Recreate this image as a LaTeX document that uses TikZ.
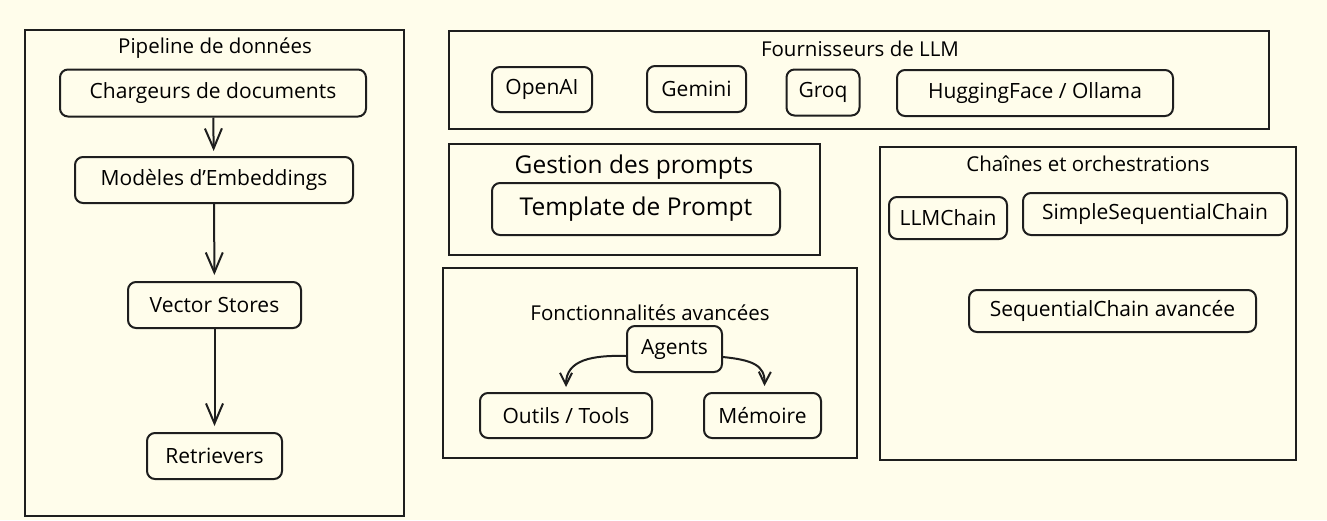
\documentclass[tikz,border=0pt]{standalone}
\usepackage{fontspec}
\setmainfont{Open Sans}
\usetikzlibrary{arrows.meta}
\usetikzlibrary{calc}
\definecolor{paper}{RGB}{255,253,235}
\definecolor{ink}{RGB}{30,30,30}
\tikzset{
	groupstyle/.style={draw=ink, line width=2pt, inner sep=0pt},
	boxstyle/.style={draw=ink, line width=2pt, rounded corners=8pt, inner sep=0pt, font=\fontsize{21}{24}\selectfont},
	titlestyle/.style={inner sep=0pt, font=\fontsize{20.5}{24}\selectfont},
	bigstyle/.style={font=\fontsize{24.5}{28}\selectfont},
	flow/.style={draw=ink, line width=2pt, -{Straight Barb[length=20pt, width=17pt, line width=2pt]}},
	flowsmall/.style={draw=ink, line width=2pt, -{Straight Barb[length=12pt, width=12pt, line width=2pt]}}
}

\begin{document}
\begin{tikzpicture}[x=1pt, y=-1pt]

\useasboundingbox (0,0) rectangle (1327,520);
\fill[paper] (0,0) rectangle (1327,520);

% groups
\node[groupstyle, minimum width=379pt, minimum height=486pt] (pipeline) at (214.5,273) {};
\node[groupstyle, minimum width=820pt, minimum height=98pt]  (providers) at (859,80) {};
\node[groupstyle, minimum width=371pt, minimum height=111pt] (prompts) at (634.5,199.5) {};
\node[groupstyle, minimum width=414pt, minimum height=190pt] (advanced) at (650,363) {};
\node[groupstyle, minimum width=416pt, minimum height=313pt] (chains) at (1088,303.5) {};

\node[titlestyle] (pipetitle) at (215,48) {Pipeline de données};
\node[titlestyle] (provtitle) at (860,49) {Fournisseurs de LLM};
\node[titlestyle, bigstyle] (prompttitle) at (634,167) {Gestion des prompts};
\node[titlestyle] (advtitle) at (650,313) {Fonctionnalités avancées};
\node[titlestyle] (chaintitle) at (1088,164) {Chaînes et orchestrations};

% pipeline de donnees
\node[boxstyle, minimum width=306pt, minimum height=47pt] (loaders) at (213,93) {Chargeurs de documents};
\node[boxstyle, minimum width=278pt, minimum height=46pt] (embed) at (214,180) {Modèles d’Embeddings};
\node[boxstyle, minimum width=173pt, minimum height=46pt] (vstore) at (214.5,305) {Vector Stores};
\node[boxstyle, minimum width=135pt, minimum height=46pt] (retr) at (214.5,456) {Retrievers};

% fournisseurs
\node[boxstyle, minimum width=100pt, minimum height=45pt] (openai) at (542,89.5) {OpenAI};
\node[boxstyle, minimum width=99pt, minimum height=46pt]  (gemini) at (696.5,89) {Gemini};
\node[boxstyle, minimum width=73pt, minimum height=46pt]  (groq) at (823,92.5) {Groq};
\node[boxstyle, minimum width=276pt, minimum height=46pt] (hf) at (1035,93) {HuggingFace / Ollama};

% prompts
\node[boxstyle, bigstyle, minimum width=288pt, minimum height=52pt] (template) at (636,209) {Template de Prompt};

% fonctionnalites
\node[boxstyle, minimum width=95pt, minimum height=46pt]  (agents) at (674.5,349) {Agents};
\node[boxstyle, minimum width=172pt, minimum height=45pt] (tools) at (566,415.5) {Outils / Tools};
\node[boxstyle, minimum width=117pt, minimum height=45pt] (memory) at (762.5,415.5) {Mémoire};

% chaines
\node[boxstyle, minimum width=118pt, minimum height=42pt] (llmchain) at (948,218) {LLMChain};
\node[boxstyle, minimum width=264pt, minimum height=42pt] (simplechain) at (1155,214) {SimpleSequentialChain};
\node[boxstyle, minimum width=287pt, minimum height=42pt] (seqchain) at (1112.5,311) {SequentialChain avancée};

\draw[flow, shorten >=5pt] (loaders) -- (embed);
\draw[flow, shorten >=6pt] (embed) -- (vstore);
\draw[flow, shorten >=6pt] (vstore) -- (retr);

\draw[flowsmall] ($(agents.west)+(0,7)$) .. controls (592,355) and (566,360) .. ($(tools.north)+(0,-5)$);
\draw[flowsmall] ($(agents.east)+(0,8)$) .. controls (752,360) and (765,365) .. ($(memory.north)+(2,-6)$);
\end{tikzpicture}
\end{document}
